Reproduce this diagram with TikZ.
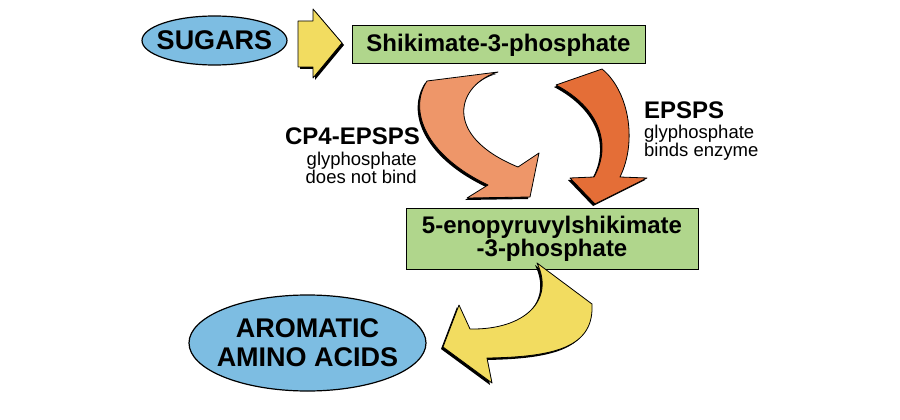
\documentclass[tikz,border=0pt]{standalone}
\usepackage{fontspec}
\setmainfont{Liberation Sans}
\usetikzlibrary{shapes,positioning}
\definecolor{sugarblue}{RGB}{125,189,226}
\definecolor{boxgreen}{RGB}{176,214,140}
\definecolor{arrowyellow}{RGB}{242,220,96}
\definecolor{lightorange}{RGB}{238,150,105}
\definecolor{darkorange}{RGB}{228,110,55}
\tikzset{
  oval/.style={ellipse,draw,line width=1.2pt,fill=sugarblue,inner sep=0pt,
    font=\fontsize{27}{29}\selectfont\bfseries},
  stage/.style={rectangle,draw,line width=1pt,fill=boxgreen,inner sep=0pt,
    font=\fontsize{24}{22}\selectfont\bfseries},
  enzyme/.style={inner sep=0pt,font=\fontsize{24}{24}\selectfont\bfseries},
  note/.style={inner sep=0pt,font=\fontsize{18.5}{18}\selectfont},
  shadowR/.style={fill=black,shift={(2,2)}},
  shadowL/.style={fill=black,shift={(-2,2)}},
  blockarrow/.style={draw,line width=0.8pt,line join=round}
}
\newcommand{\feedArrow}{(298,21) -- (313,21) -- (313,9) -- (342,43) -- (313,78) -- (313,67) -- (298,67) -- cycle}
\newcommand{\cpArrow}{(427,81) -- (498,72) .. controls (458,84) and (440,135) .. (518,167) -- (539,153) -- (530,197) -- (467,198) -- (488,185) .. controls (425,155) and (408,110) .. (427,81) -- cycle}
\newcommand{\epArrow}{(556,85) -- (602,69) .. controls (628,90) and (638,140) .. (620,177) -- (647,178) -- (595,204) -- (570,178) -- (594,177) .. controls (612,145) and (600,108) .. (556,85) -- cycle}
\newcommand{\outArrow}{(537,263) -- (592,304) .. controls (594,345) and (560,357) .. (487,358) -- (492,383) -- (443,347) -- (459,305) -- (470,329) .. controls (525,330) and (555,300) .. (537,263) -- cycle}

\begin{document}
\begin{tikzpicture}[x=1pt,y=-1pt]
  \useasboundingbox[fill=white] (0,0) rectangle (900,420);
  \node[oval,inner xsep=-7pt,minimum width=145,minimum height=49] (sugars) at (214.5,40.5) {SUGARS};
  \node[stage,minimum width=293,minimum height=38] (shikimate) at (498.5,45) {Shikimate-3-phosphate};
  \node[stage,minimum width=292,minimum height=61,align=center] (enol) at (552,238.5) {5-enopyruvylshikimate\\-3-phosphate};
  \node[oval,inner xsep=-9pt,minimum width=237,minimum height=96,align=center] (aromatic) at (307.5,343) {AROMATIC\\AMINO ACIDS};
  \node[enzyme,anchor=base east] (cp4) at (420,144) {CP4-EPSPS};
  \node[note,anchor=north east,align=right] (cp4note) at (417,151.5) {glyphosphate\\does not bind};
  \node[enzyme,anchor=base west] (epsps) at (644,118) {EPSPS};
  \node[note,anchor=north west,align=left] (epspsnote) at (644,124.5) {glyphosphate\\binds enzyme};
  \fill[shadowR] \feedArrow;
  \filldraw[blockarrow,fill=arrowyellow] \feedArrow;
  \fill[shadowL] \cpArrow;
  \filldraw[blockarrow,fill=lightorange] \cpArrow;
  \fill[shadowL] \epArrow;
  \filldraw[blockarrow,fill=darkorange] \epArrow;
  \fill[shadowL] \outArrow;
  \filldraw[blockarrow,fill=arrowyellow] \outArrow;
\end{tikzpicture}
\end{document}
